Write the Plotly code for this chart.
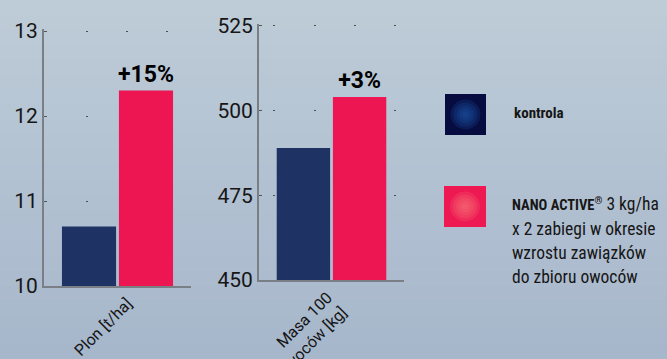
import plotly.graph_objects as go

# ---- data ----
categories_left = ["Plon [t/ha]"]
categories_right = ["Masa 100<br>owoców [kg]"]
series_names = ["kontrola", "NANO ACTIVE® 3 kg/ha"]
kontrola_values = [10.7, 489]
nano_values = [12.3, 504]
left_ticks = [10, 11, 12, 13]
right_ticks = [450, 475, 500, 525]
legend_lines = ["<span style='font-size:14.5px'><b>NANO ACTIVE<sup>®</sup></b></span> 3 kg/ha",
                "x 2 zabiegi w okresie", "wzrostu zawiązków", "do zbioru owoców"]

W, H = 667, 359
BLUE = "#1e3363"
RED = "#ee1652"
AXC = "#7a7f86"
TXT = "#161616"
LFONT = "Liberation Sans Narrow, Roboto Condensed, Liberation Sans, Arial"

def pct(a, b):
    return f"+{round((b / a - 1) * 100)}%"

fig = go.Figure()
cats = [categories_left, categories_right]
for i, (xa, ya) in enumerate([("x", "y"), ("x2", "y2")]):
    fig.add_trace(go.Bar(x=cats[i], y=[kontrola_values[i]], name=series_names[0],
                         marker=dict(color=BLUE, line=dict(width=0)),
                         xaxis=xa, yaxis=ya, showlegend=False))
    fig.add_trace(go.Bar(x=cats[i], y=[nano_values[i]], name=series_names[1],
                         marker=dict(color=RED, line=dict(width=0)),
                         text=[pct(kontrola_values[i], nano_values[i])],
                         textposition="outside", constraintext="none",
                         textfont=dict(family="Roboto", size=23, color="#000", weight="bold"),
                         xaxis=xa, yaxis=ya, showlegend=False))

def px(x):
    return x / W

def py(y):
    return 1 - y / H

shapes = []
# background vertical gradient
top = (190, 204, 216)
bot = (167, 183, 203)
n = 24
for k in range(n):
    t = k / (n - 1)
    c = tuple(int(round(top[j] + (bot[j] - top[j]) * t)) for j in range(3))
    shapes.append(dict(type="rect", xref="paper", yref="paper", x0=0, x1=1,
                       y0=1 - (k + 1) / n, y1=1 - k / n, fillcolor=f"rgb{c}",
                       line=dict(width=0), layer="below"))

# legend swatches with radial glow
def swatch(x0, y0, x1, y1, base, glow):
    shapes.append(dict(type="rect", xref="paper", yref="paper", x0=px(x0), x1=px(x1),
                       y0=py(y1), y1=py(y0), fillcolor=base, line=dict(width=0)))
    cx, cy = (x0 + x1) / 2, (y0 + y1) / 2
    for r in [15, 12, 9, 6, 3]:
        shapes.append(dict(type="circle", xref="paper", yref="paper",
                           x0=px(cx - r), x1=px(cx + r), y0=py(cy + r), y1=py(cy - r),
                           fillcolor=glow, opacity=0.2, line=dict(width=0)))

swatch(445, 94, 486, 135, "#070c40", "#1d5bb0")
swatch(444, 186, 486, 227, "#ee1852", "#f6787a")

annotations = [dict(text="<b>kontrola</b>", x=px(512), y=py(113), xref="paper", yref="paper",
                    xanchor="left", yanchor="middle", showarrow=False,
                    font=dict(family=LFONT, size=15, color=TXT))]
for k, (line, yy) in enumerate(zip(legend_lines, [204, 229, 253, 277])):
    annotations.append(dict(text=line, x=px(510), y=py(yy), xref="paper", yref="paper",
                            xanchor="left", yanchor="middle", showarrow=False,
                            font=dict(family=LFONT, size=17.5, color=TXT)))

xcommon = dict(type="category", showline=True, linecolor=AXC, linewidth=2, ticks="inside",
               tickson="boundaries", ticklen=7, tickwidth=2, tickcolor=AXC, tickangle=-45,
               tickfont=dict(family="Roboto", size=16, color=TXT), showgrid=False,
               automargin=False)
ycommon = dict(showline=True, linecolor=AXC, linewidth=2, ticks="inside", ticklen=3,
               tickwidth=1, tickcolor="#555", tickfont=dict(family="Roboto", size=21, color=TXT),
               showgrid=True, gridcolor="#4a4f56", gridwidth=1.2, zeroline=False,
               automargin=False)

fig.update_layout(
    template="none",
    width=W, height=H,
    margin=dict(l=0, r=0, t=0, b=0),
    paper_bgcolor="#b3c3d3", plot_bgcolor="rgba(0,0,0,0)",
    barmode="group", bargap=0.225, bargroupgap=0.05,
    showlegend=False,
    xaxis=dict(domain=[px(44), px(191)], anchor="y", ticklabelshift=10, **xcommon),
    xaxis2=dict(domain=[px(259), px(404)], anchor="y2", ticklabelshift=-4, **xcommon),
    yaxis=dict(domain=[py(286), py(29.3)], anchor="x", range=[10, 13.02], tickvals=left_ticks,
               griddash="0px,42px,2px,38px,2px,38px,2px,300px", **ycommon),
    yaxis2=dict(domain=[py(280), py(24.3)], anchor="x2", range=[450, 525.5], tickvals=right_ticks,
                griddash="0px,14px,2px,39px,2px,38px,2px,38px,2px,300px", **ycommon),
    shapes=shapes,
    annotations=annotations,
)

fig.write_html("out.html")
